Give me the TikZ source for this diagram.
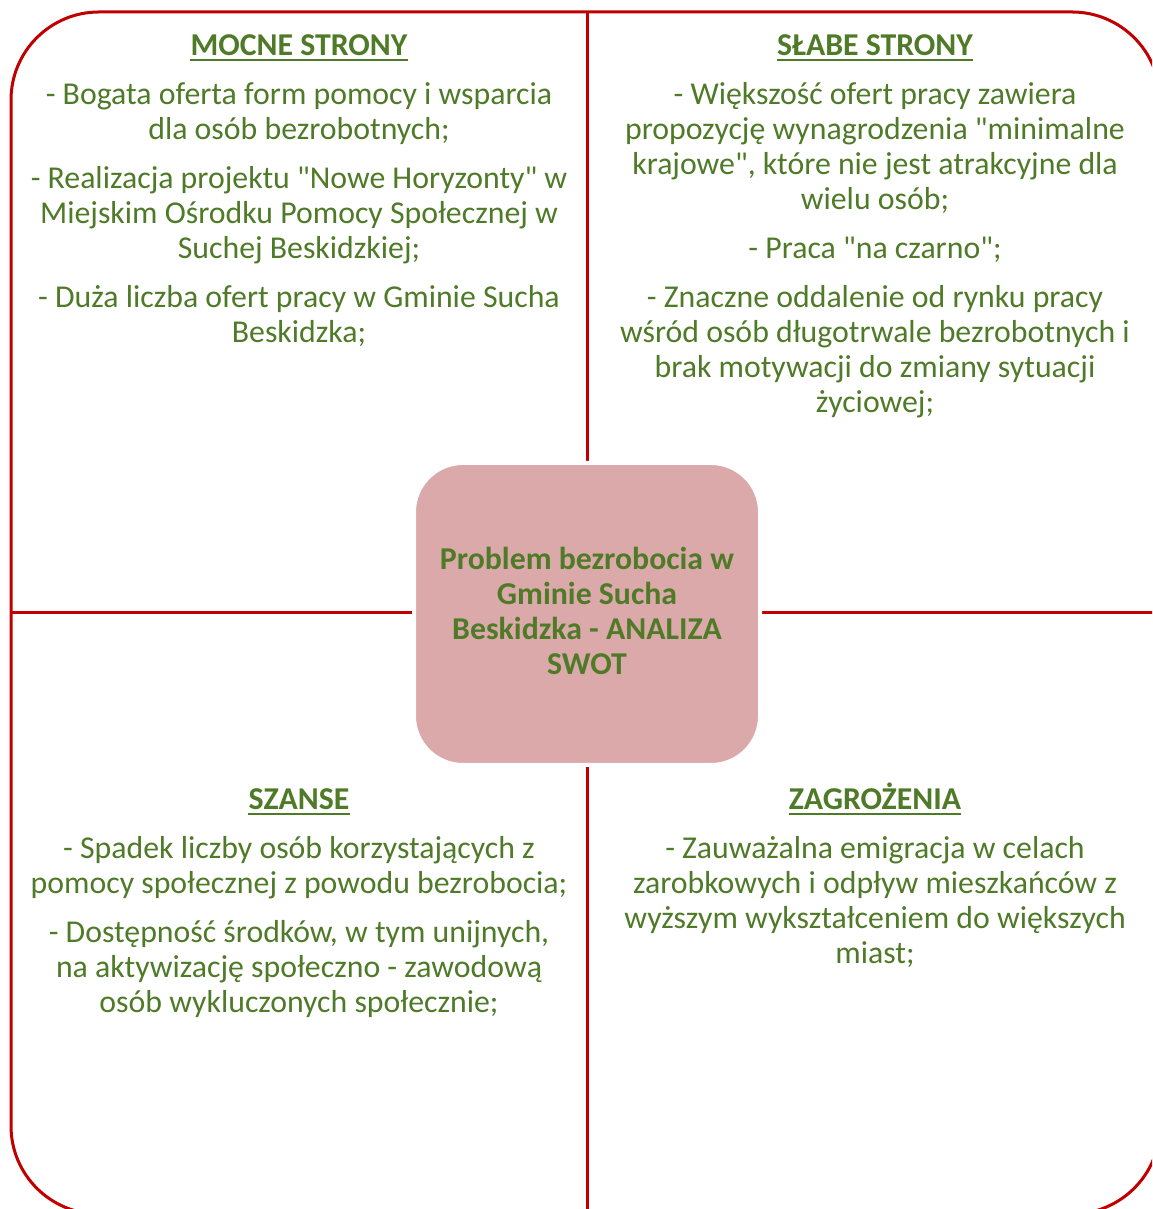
\documentclass[tikz,border=0pt]{standalone}
\usepackage{fontspec}
\setmainfont{Carlito}
\definecolor{dred}{HTML}{C00000}
\definecolor{tgreen}{HTML}{4F7A28}
\definecolor{cpink}{HTML}{DBA9AA}
\newcommand{\qq}{\textquotedbl}
\begin{document}
\begin{tikzpicture}[x=1pt,y=1pt,
  frame/.style={draw=dred, line width=3pt},
  body/.style={anchor=base, inner sep=0pt, text=tgreen, font=\fontsize{31.8}{35}\selectfont},
  head/.style={anchor=base, inner sep=0pt, text=tgreen, font=\fontsize{31.8}{35}\selectfont\bfseries},
  uline/.style={draw=tgreen, line width=2pt}]
\useasboundingbox (0,0) rectangle (1152,1209);
\clip (0,0) rectangle (1152,1209);
\fill[white] (0,0) rectangle (1152,1209);
% frame of the four fields
\draw[frame, rounded corners=88pt] (11,-5) rectangle (1160,1197);
\coordinate (vt) at (587,1197);
\coordinate (vb) at (587,-5);
\coordinate (hl) at (11,596);
\coordinate (hr) at (1160,596);
\draw[frame] (vt) -- (vb);
\draw[frame] (hl) -- (hr);
% centre box
\node[draw=white, line width=4pt, fill=cpink, rounded corners=49pt,
      minimum width=346pt, minimum height=302pt, inner sep=0pt] (core) at (587,595) {};
% headings
\node[head] (h1) at (299,{1209-56}) {MOCNE STRONY};
\node[head] (h2) at (875,{1209-56}) {SŁABE STRONY};
\node[head] (h3) at (299,{1209-810}) {SZANSE};
\node[head] (h4) at (875,{1209-810}) {ZAGROŻENIA};
\foreach \h in {h1,h2,h3,h4}
  \draw[uline] ([yshift=-4pt]\h.south west) -- ([yshift=-4pt]\h.south east);
% top left
\foreach \n/\y/\t in {
  tl1/105/{- Bogata oferta form pomocy i wsparcia},
  tl2/140/{dla osób bezrobotnych;},
  tl3/189/{- Realizacja projektu \qq Nowe Horyzonty\qq{} w},
  tl4/224/{Miejskim Ośrodku Pomocy Społecznej w},
  tl5/259/{Suchej Beskidzkiej;},
  tl6/308/{- Duża liczba ofert pracy w Gminie Sucha},
  tl7/343/{Beskidzka;}}
  \node[body] (\n) at (299,{1209-\y}) {\t};
% top right
\foreach \n/\y/\t in {
  tr1/105/{- Większość ofert pracy zawiera},
  tr2/140/{propozycję wynagrodzenia \qq minimalne},
  tr3/175/{krajowe\qq, które nie jest atrakcyjne dla},
  tr4/210/{wielu osób;},
  tr5/259/{- Praca \qq na czarno\qq;},
  tr6/308/{- Znaczne oddalenie od rynku pracy},
  tr7/343/{wśród osób długotrwale bezrobotnych i},
  tr8/378/{brak motywacji do zmiany sytuacji},
  tr9/413/{życiowej;}}
  \node[body] (\n) at (875,{1209-\y}) {\t};
% bottom left
\foreach \n/\y/\t in {
  bl1/859/{- Spadek liczby osób korzystających z},
  bl2/894/{pomocy społecznej z powodu bezrobocia;},
  bl3/943/{- Dostępność środków, w tym unijnych,},
  bl4/978/{na aktywizację społeczno - zawodową},
  bl5/1013/{osób wykluczonych społecznie;}}
  \node[body] (\n) at (299,{1209-\y}) {\t};
% bottom right
\foreach \n/\y/\t in {
  br1/859/{- Zauważalna emigracja w celach},
  br2/894/{zarobkowych i odpływ mieszkańców z},
  br3/929/{wyższym wykształceniem do większych},
  br4/964/{miast;}}
  \node[body] (\n) at (875,{1209-\y}) {\t};
% centre text
\foreach \n/\y/\t in {
  c1/570/{Problem bezrobocia w},
  c2/605/{Gminie Sucha},
  c3/640/{Beskidzka - ANALIZA},
  c4/675/{SWOT}}
  \node[head] (\n) at (587,{1209-\y}) {\t};
\end{tikzpicture}
\end{document}
